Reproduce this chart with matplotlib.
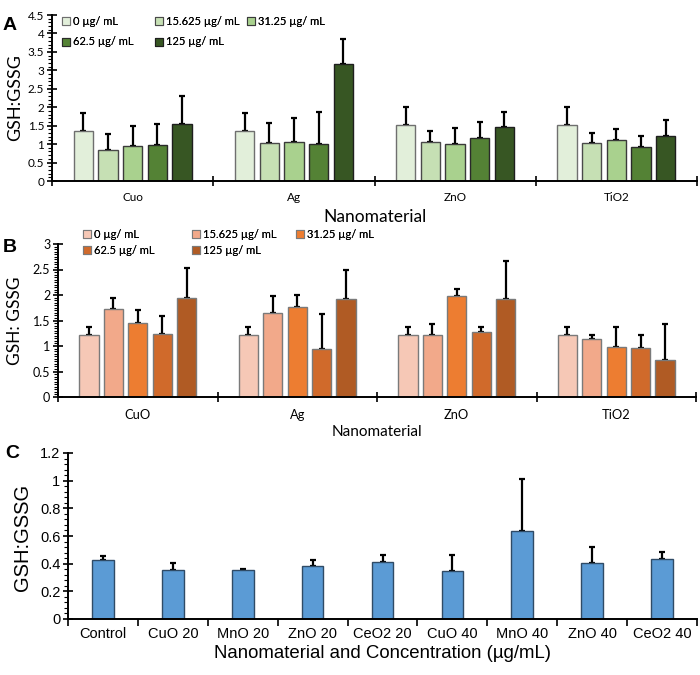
import numpy as np
import matplotlib
matplotlib.use("Agg")
import matplotlib.pyplot as plt
from matplotlib.patches import Rectangle
from matplotlib.ticker import MultipleLocator

# ---------------------------
# DATA
# ---------------------------
conc_labels = ["0 µg/ mL", "15.625 µg/ mL", "31.25 µg/ mL", "62.5 µg/ mL", "125 µg/ mL"]

# panel A (rows = concentration, cols = nanomaterial)
a_cats = ["Cuo", "Ag", "ZnO", "TiO2"]
a_means = [
    [1.35, 1.35, 1.51, 1.51],
    [0.84, 1.04, 1.07, 1.04],
    [0.96, 1.07, 0.99, 1.10],
    [0.97, 1.01, 1.17, 0.93],
    [1.54, 3.17, 1.46, 1.23],
]
a_sd = [
    [0.49, 0.49, 0.49, 0.49],
    [0.43, 0.53, 0.29, 0.26],
    [0.53, 0.65, 0.45, 0.32],
    [0.57, 0.85, 0.43, 0.28],
    [0.77, 0.67, 0.40, 0.42],
]

# panel B
b_cats = ["CuO", "Ag", "ZnO", "TiO2"]
b_means = [
    [1.21, 1.21, 1.21, 1.21],
    [1.73, 1.65, 1.21, 1.14],
    [1.46, 1.77, 1.98, 0.98],
    [1.23, 0.94, 1.27, 0.96],
    [1.94, 1.93, 1.92, 0.72],
]
b_sd = [
    [0.16, 0.16, 0.16, 0.16],
    [0.22, 0.33, 0.23, 0.07],
    [0.24, 0.23, 0.13, 0.39],
    [0.35, 0.69, 0.10, 0.25],
    [0.59, 0.57, 0.74, 0.72],
]

# panel C
c_cats = ["Control", "CuO 20", "MnO 20", "ZnO 20", "CeO2 20",
          "CuO 40", "MnO 40", "ZnO 40", "CeO2 40"]
c_means = [0.427, 0.354, 0.356, 0.385, 0.414, 0.344, 0.636, 0.402, 0.431]
c_sd = [0.031, 0.051, 0.008, 0.044, 0.046, 0.116, 0.374, 0.121, 0.051]

# ---------------------------
# STYLE
# ---------------------------
A_COLORS = ["#E2EFDA", "#C6E0B4", "#A9D18E", "#548235", "#375623"]
A_EDGES = ["#6f6f6f", "#4a4a4a", "#3a3a3a", "#2a2a2a", "#1e1e1e"]
B_COLORS = ["#F6C8B6", "#F2A98A", "#ED7D31", "#D06A2B", "#B05B24"]
B_EDGE = "#7a7a7a"
C_COLOR = "#5B9BD5"
C_EDGE = "#2f4b66"

CAL = ["Lato", "DejaVu Sans"]
ARIAL = ["Liberation Sans", "DejaVu Sans"]

W, H = 700, 675
fig = plt.figure(figsize=(7, 6.75), dpi=100)


def box(left, top, right, bottom):
    return [left / W, 1 - bottom / H, (right - left) / W, (bottom - top) / H]


def fx(px):
    return px / W


def fy(py):
    return 1 - py / H


def style_axis(ax, ymax, major, minor, xdir, font, fsize):
    for s in ["top", "right"]:
        ax.spines[s].set_visible(False)
    for s in ["left", "bottom"]:
        ax.spines[s].set_linewidth(1.4)
    ax.set_ylim(0, ymax)
    ax.yaxis.set_major_locator(MultipleLocator(major))
    ax.yaxis.set_minor_locator(MultipleLocator(minor))
    ax.tick_params(axis="y", which="major", direction="inout", length=7, width=1.2,
                   labelsize=fsize, pad=2)
    ax.tick_params(axis="y", which="minor", direction="out", length=3, width=0.8)
    ax.tick_params(axis="x", which="major", direction=xdir, length=7, width=1.2,
                   labelbottom=False)
    ax.tick_params(axis="x", which="minor", length=0)
    for lab in ax.get_yticklabels():
        lab.set_family(font)
    ax.yaxis.set_major_formatter(plt.FuncFormatter(lambda v, p: f"{v:g}"))


def grouped(ax, cats, means, sds, colors, edges):
    n = len(means)
    x = np.arange(len(cats))
    pitch, width = 0.153, 0.12
    handles = []
    for k in range(n):
        xs = x + (k - (n - 1) / 2) * pitch
        ax.bar(xs, means[k], width, color=colors[k], edgecolor=edges[k], linewidth=1, zorder=2)
        ax.errorbar(xs, means[k], yerr=[np.zeros(len(cats)), sds[k]], fmt="none",
                    ecolor="black", elinewidth=1.6, capsize=2.3, capthick=1.6, zorder=1)
        handles.append(Rectangle((0, 0), 1, 1, facecolor=colors[k], edgecolor=edges[k], linewidth=0.8))
    ax.set_xlim(-0.5, len(cats) - 0.5)
    ax.set_xticks(np.arange(len(cats) + 1) - 0.5)
    ax.set_xticks(x, minor=True)
    return handles


def column_legends(handles, labels, cols, x_px, y_px, fsize, spacing):
    for xi, idx in zip(x_px, cols):
        leg = fig.legend([handles[i] for i in idx], [labels[i] for i in idx],
                         loc="upper left", bbox_to_anchor=(fx(xi), fy(y_px)),
                         frameon=False, borderpad=0, borderaxespad=0,
                         handlelength=0.75, handleheight=0.75, handletextpad=0.25,
                         labelspacing=spacing, prop={"family": CAL, "size": fsize})
        fig.add_artist(leg)


# ---------------------------
# PANEL A
# ---------------------------
axA = fig.add_axes(box(52, 15, 697, 181))
hA = grouped(axA, a_cats, a_means, a_sd, A_COLORS, A_EDGES)
style_axis(axA, 4.5, 0.5, 0.1, "inout", CAL, 8.5)
for i, c in enumerate(a_cats):
    axA.text(i, -0.45, c, ha="center", va="center", fontsize=8.5, family=CAL)
fig.text(fx(375), fy(217), "Nanomaterial", ha="center", va="center", fontsize=12.5, family=CAL)
fig.text(fx(15), fy(98), "GSH:GSSG", rotation=90, ha="center", va="center", fontsize=13, family=CAL)
fig.text(fx(3), fy(25), "A", ha="left", va="center", fontsize=14, weight="bold", family=ARIAL)
column_legends(hA, conc_labels, [[0, 3], [1, 4], [2]], [62, 155, 247], 16, 8, 0.85)

# ---------------------------
# PANEL B
# ---------------------------
axB = fig.add_axes(box(58, 244, 696, 397))
hB = grouped(axB, b_cats, b_means, b_sd, B_COLORS, [B_EDGE] * 5)
style_axis(axB, 3, 0.5, 0.05, "inout", CAL, 9)
for i, c in enumerate(b_cats):
    axB.text(i, -0.36, c, ha="center", va="center", fontsize=9.3, family=CAL)
fig.text(fx(377), fy(432), "Nanomaterial", ha="center", va="center", fontsize=11, family=CAL)
fig.text(fx(15), fy(321), "GSH: GSSG", rotation=90, ha="center", va="center", fontsize=12.5, family=CAL)
fig.text(fx(3), fy(247), "B", ha="left", va="center", fontsize=14, weight="bold", family=ARIAL)
column_legends(hB, conc_labels, [[0, 3], [1, 4], [2]], [83, 192, 296], 229, 8, 0.45)

# ---------------------------
# PANEL C
# ---------------------------
axC = fig.add_axes(box(68, 453, 697, 619))
xc = np.arange(len(c_cats))
axC.bar(xc, c_means, 0.31, color=C_COLOR, edgecolor=C_EDGE, linewidth=1, zorder=2)
axC.errorbar(xc, c_means, yerr=[np.zeros(len(c_cats)), c_sd], fmt="none",
             ecolor="black", elinewidth=1.6, capsize=2.3, capthick=1.6, zorder=1)
axC.set_xlim(-0.5, len(c_cats) - 0.5)
axC.set_xticks(np.arange(len(c_cats) + 1) - 0.5)
axC.set_xticks(xc, minor=True)
style_axis(axC, 1.2, 0.2, 0.04, "out", ARIAL, 10.5)
axC.tick_params(axis="x", which="major", length=5)
for i, c in enumerate(c_cats):
    axC.text(i, -0.105, c, ha="center", va="center", fontsize=10.5, family=ARIAL)
fig.text(fx(383), fy(653), "Nanomaterial and Concentration (µg/mL)", ha="center", va="center",
         fontsize=13.4, family=ARIAL)
fig.text(fx(23), fy(537), "GSH:GSSG", rotation=90, ha="center", va="center", fontsize=14.5, family=ARIAL)
fig.text(fx(5), fy(453), "C", ha="left", va="center", fontsize=14, weight="bold", family=ARIAL)

fig.savefig("out.png", dpi=100)
